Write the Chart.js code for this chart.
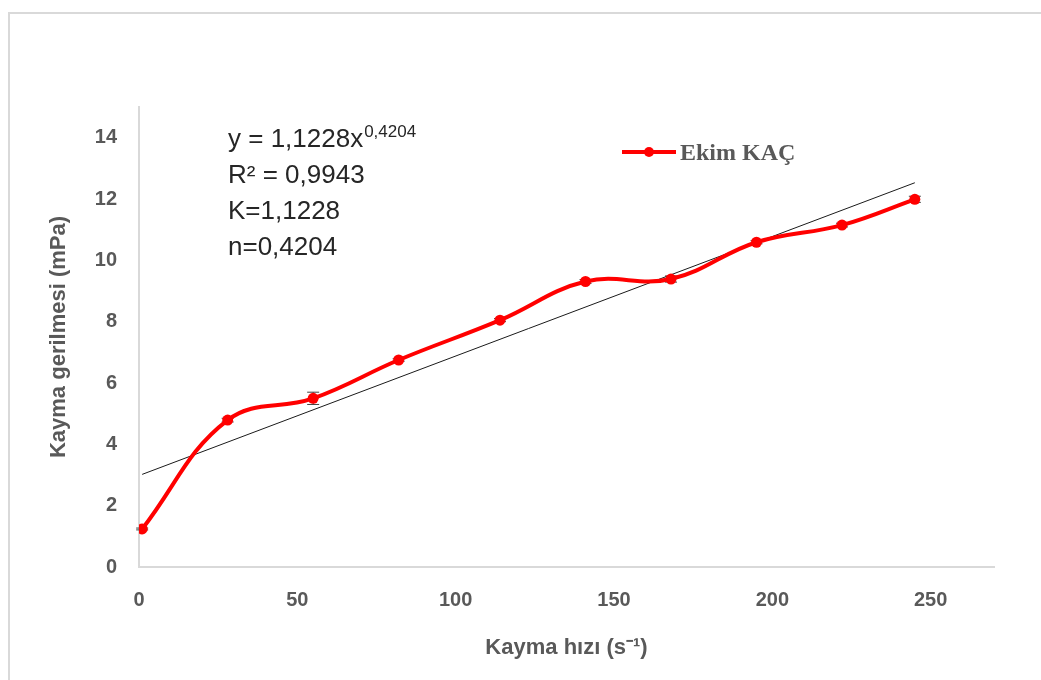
<!DOCTYPE html>
<html>
<head>
<meta charset="utf-8">
<script src="https://cdn.jsdelivr.net/npm/chart.js@4.4.1/dist/chart.umd.min.js"></script>
<style>
  html, body { margin: 0; padding: 0; background: #fff; }
  #wrap { width: 1041px; height: 680px; }
</style>
</head>
<body>
<div id="wrap"><canvas id="chart" width="1041" height="680"></canvas></div>
<script>
// shear rate (s-1) and shear stress (mPa)
const shearRate = [1, 28, 55, 82, 114, 141, 168, 195, 222, 245];
const shearStress = [1.24, 4.79, 5.5, 6.75, 8.05, 9.31, 9.39, 10.59, 11.15, 11.99];
const stressError = [0.03, 0.06, 0.2, 0.04, 0.05, 0.06, 0.1, 0.05, 0.06, 0.1];

// trend line end points
const trendX = [1, 245];
const trendY = [3.02, 12.53];

const xTicks = [0, 50, 100, 150, 200, 250];
const yTicks = [0, 2, 4, 6, 8, 10, 12, 14];

const seriesName = 'Ekim KAÇ';
const equationLines = ['y = 1,1228x', 'R² = 0,9943', 'K=1,1228', 'n=0,4204'];
const exponentText = '0,4204';

const axisGray = '#595959';

const frame = {
  id: 'frame',
  beforeDraw(chart) {
    const ctx = chart.ctx;
    ctx.save();
    ctx.strokeStyle = '#d9d9d9';
    ctx.lineWidth = 2;
    ctx.strokeRect(9, 13, 1060, 700);
    ctx.restore();
  }
};

// error bars go under the markers
const errorBars = {
  id: 'errorBars',
  beforeDatasetsDraw(chart) {
    const ctx = chart.ctx;
    const xs = chart.scales.x, ys = chart.scales.y;
    ctx.save();
    ctx.strokeStyle = '#404040';
    ctx.lineWidth = 1;
    shearRate.forEach((x, i) => {
      const px = xs.getPixelForValue(x);
      const top = ys.getPixelForValue(shearStress[i] + stressError[i]);
      const bot = ys.getPixelForValue(shearStress[i] - stressError[i]);
      ctx.beginPath();
      ctx.moveTo(px, top); ctx.lineTo(px, bot);
      ctx.moveTo(px - 6, top); ctx.lineTo(px + 6, top);
      ctx.moveTo(px - 6, bot); ctx.lineTo(px + 6, bot);
      ctx.stroke();
    });
    ctx.restore();
  }
};

const annotations = {
  id: 'annotations',
  afterDraw(chart) {
    const ctx = chart.ctx;
    ctx.save();
    // equation block
    ctx.fillStyle = '#262626';
    ctx.textBaseline = 'alphabetic';
    ctx.textAlign = 'left';
    ctx.font = '26px "Liberation Sans", Arial, sans-serif';
    equationLines.forEach((t, i) => ctx.fillText(t, 228, 147 + i * 36));
    const w = ctx.measureText(equationLines[0]).width;
    ctx.font = '17px "Liberation Sans", Arial, sans-serif';
    ctx.fillText(exponentText, 228 + w + 1, 137);

    // legend
    const ly = 152;
    ctx.strokeStyle = '#ff0000';
    ctx.lineWidth = 4;
    ctx.beginPath();
    ctx.moveTo(622, ly); ctx.lineTo(676, ly);
    ctx.stroke();
    ctx.fillStyle = '#ff0000';
    ctx.beginPath();
    ctx.arc(649, ly, 5, 0, Math.PI * 2);
    ctx.fill();
    ctx.fillStyle = axisGray;
    ctx.font = 'bold 24px "Liberation Serif", "Times New Roman", serif';
    ctx.textBaseline = 'alphabetic';
    ctx.fillText(seriesName, 680, 160);
    ctx.restore();
  }
};

new Chart(document.getElementById('chart').getContext('2d'), {
  type: 'line',
  data: {
    datasets: [{
      label: seriesName,
      data: shearRate.map((x, i) => ({ x: x, y: shearStress[i] })),
      borderColor: '#ff0000',
      backgroundColor: '#ff0000',
      borderWidth: 4,
      pointRadius: 5.5,
      pointBorderWidth: 0,
      tension: 0.4,
      order: 1
    }, {
      label: 'trend',
      data: trendX.map((x, i) => ({ x: x, y: trendY[i] })),
      borderColor: '#1a1a1a',
      borderWidth: 1,
      pointRadius: 0,
      tension: 0,
      order: 2
    }]
  },
  options: {
    responsive: false,
    animation: false,
    layout: { padding: { top: 107, right: 47, left: 0, bottom: 0 } },
    plugins: {
      legend: { display: false },
      tooltip: { enabled: false }
    },
    scales: {
      x: {
        type: 'linear',
        min: 0,
        max: 270,
        afterFit: s => { s.height = 113; },
        afterBuildTicks: s => { s.ticks = xTicks.map(v => ({ value: v })); },
        grid: { display: false, drawTicks: false },
        border: { display: true, color: '#d9d9d9', width: 2 },
        ticks: {
          color: axisGray,
          padding: 21,
          maxRotation: 0,
          font: { family: '"Liberation Sans", Arial, sans-serif', size: 20, weight: 'bold' }
        },
        title: {
          display: true,
          text: 'Kayma hızı (s⁻¹)',
          color: axisGray,
          padding: { top: 0, bottom: 19 },
          font: { family: '"Liberation Sans", Arial, sans-serif', size: 22, weight: 'bold' }
        }
      },
      y: {
        min: 0,
        max: 15,
        afterFit: s => { s.width = 139; },
        afterBuildTicks: s => { s.ticks = yTicks.map(v => ({ value: v })); },
        grid: { display: false, drawTicks: false },
        border: { display: true, color: '#d9d9d9', width: 2 },
        ticks: {
          color: axisGray,
          padding: 22,
          font: { family: '"Liberation Sans", Arial, sans-serif', size: 20, weight: 'bold' }
        },
        title: {
          display: true,
          text: 'Kayma gerilmesi (mPa)',
          color: axisGray,
          padding: { top: 46, bottom: 0 },
          font: { family: '"Liberation Sans", Arial, sans-serif', size: 22, weight: 'bold' }
        }
      }
    }
  },
  plugins: [frame, errorBars, annotations]
});
</script>
</body>
</html>
